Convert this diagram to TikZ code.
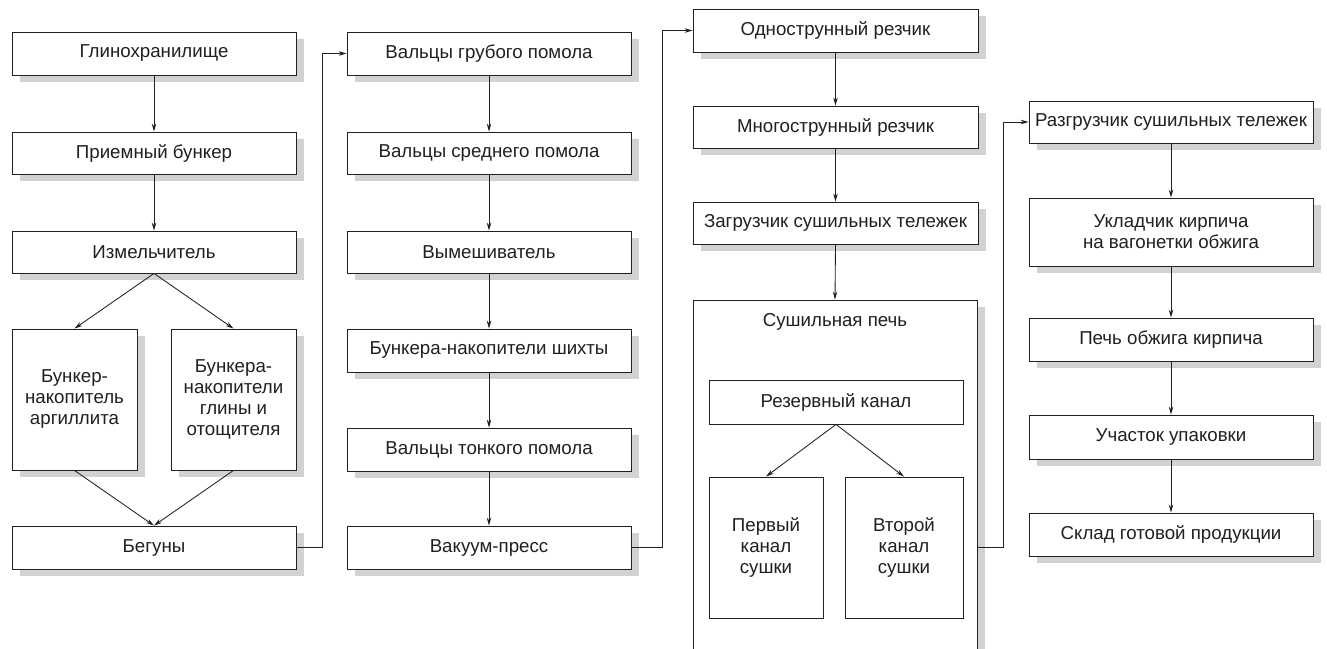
\documentclass[tikz,border=0pt]{standalone}
\usepackage{fontspec}
\setmainfont{Liberation Sans}
\usetikzlibrary{arrows.meta,shadows}
\definecolor{ink}{HTML}{231F20}
\definecolor{shade}{HTML}{D2D2D2}
\tikzset{
  box/.style={draw=ink, line width=0.85pt, fill=white, inner sep=2pt, align=center,
    font=\fontsize{18.7}{21}\selectfont, text=ink,
    drop shadow={shadow xshift=8pt, shadow yshift=-7pt, fill=shade, opacity=1}},
  ibox/.style={draw=ink, line width=0.85pt, fill=white, inner sep=2pt, align=center,
    font=\fontsize{18.7}{21}\selectfont, text=ink},
  arr/.style={draw=ink, line width=0.85pt, -{Stealth[length=8pt,width=4.5pt]}},
  ln/.style={draw=ink, line width=0.85pt}
}
\begin{document}
\begin{tikzpicture}[x=1pt,y=-1pt]
\useasboundingbox (0,0) rectangle (1327,648);
% column 1
\node[box, minimum width=284, minimum height=43] (a1) at (154,53.5) {Глинохранилище};
\node[box, minimum width=284, minimum height=42] (a2) at (154,153) {Приемный бункер};
\node[box, minimum width=284, minimum height=42] (a3) at (154,252) {Измельчитель};
\node[box, minimum width=125, minimum height=141] (a4) at (74.5,399.5) {Бункер-\\накопитель\\аргиллита};
\node[box, minimum width=125, minimum height=141] (a5) at (233.5,399.5) {Бункера-\\накопители\\глины и\\отощителя};
\node[box, minimum width=284, minimum height=43] (a6) at (154,547.5) {Бегуны};
% column 2
\node[box, minimum width=284, minimum height=43] (b1) at (489,53.5) {Вальцы грубого помола};
\node[box, minimum width=284, minimum height=42] (b2) at (489,153) {Вальцы среднего помола};
\node[box, minimum width=284, minimum height=42] (b3) at (489,252) {Вымешиватель};
\node[box, minimum width=284, minimum height=43] (b4) at (489,350.5) {Бункера-накопители шихты};
\node[box, minimum width=284, minimum height=43] (b5) at (489,449.5) {Вальцы тонкого помола};
\node[box, minimum width=284, minimum height=43] (b6) at (489,547.5) {Вакуум-пресс};
% column 3
\node[box, minimum width=285, minimum height=43] (c1) at (835.5,30.5) {Однострунный резчик};
\node[box, minimum width=285, minimum height=42] (c2) at (835.5,127) {Многострунный резчик};
\node[box, minimum width=285, minimum height=42] (c3) at (835.5,223) {Загрузчик сушильных тележек};
\node[box, minimum width=284, minimum height=352] (c4) at (835,476) {};
\node[font=\fontsize{18.7}{21}\selectfont, text=ink, inner sep=0pt] (c4t) at ([yshift=-22pt]c4.north) {Сушильная печь};
\node[ibox, minimum width=254, minimum height=44] (c5) at (836,402) {Резервный канал};
\node[ibox, minimum width=114, minimum height=141] (c6) at (766,547.5) {Первый\\канал\\сушки};
\node[ibox, minimum width=118, minimum height=141] (c7) at (904,547.5) {Второй\\канал\\сушки};
% column 4
\node[box, minimum width=284, minimum height=42] (d1) at (1171,122) {Разгрузчик сушильных тележек};
\node[box, minimum width=284, minimum height=68] (d2) at (1171,232) {Укладчик кирпича\\на вагонетки обжига};
\node[box, minimum width=284, minimum height=43] (d3) at (1171,339.5) {Печь обжига кирпича};
\node[box, minimum width=284, minimum height=44] (d4) at (1171,437) {Участок упаковки};
\node[box, minimum width=284, minimum height=43] (d5) at (1171,534.5) {Склад готовой продукции};
% connectors column 1
\draw[arr] (a1) -- (a2);
\draw[arr] (a2) -- (a3);
\draw[arr] (a3.south) -- (a4.north);
\draw[arr] (a3.south) -- (a5.north);
\draw[arr] (a4.south) -- (a6.north);
\draw[arr] (a5.south) -- (a6.north);
\draw[arr] (a6.east) -- ++(26,0) |- (b1.west);
% column 2
\draw[arr] (b1) -- (b2);
\draw[arr] (b2) -- (b3);
\draw[arr] (b3) -- (b4);
\draw[arr] (b4) -- (b5);
\draw[arr] (b5) -- (b6);
\draw[arr] (b6.east) -- ++(31,0) |- (c1.west);
% column 3
\draw[arr] (c1) -- (c2);
\draw[arr] (c2) -- (c3);
\draw[arr] (c3.south) -- (c4.north);
\draw[arr] (c5.south) -- (c6.north);
\draw[arr] (c5.south) -- (c7.north);
\draw[arr] (c4.east |- c7.center) -- ++(26,0) |- (d1.west);
% column 4
\draw[arr] (d1) -- (d2);
\draw[arr] (d2) -- (d3);
\draw[arr] (d3) -- (d4);
\draw[arr] (d4) -- (d5);
\end{tikzpicture}
\end{document}
